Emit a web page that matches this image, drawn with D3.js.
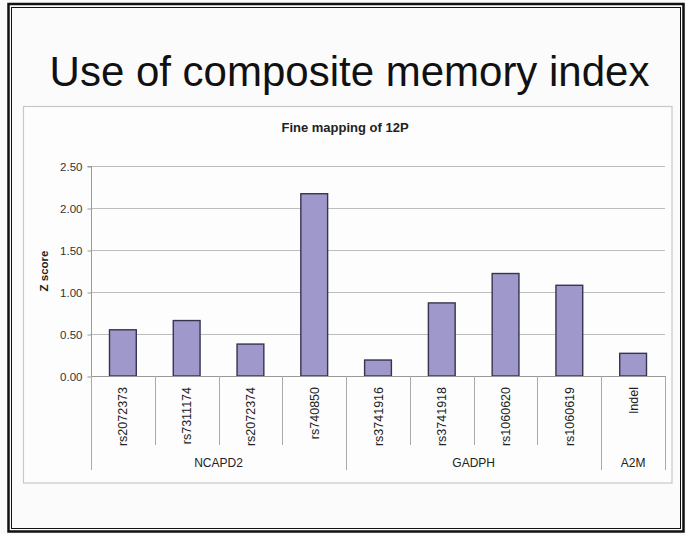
<!DOCTYPE html>
<html>
<head>
<meta charset="utf-8">
<script src="https://cdn.jsdelivr.net/npm/d3@7"></script>
<style>
  html, body { margin: 0; padding: 0; background: #fbfbfb; }
  svg { display: block; font-family: "Liberation Sans", Arial, sans-serif; }
</style>
</head>
<body>
<svg id="chart" width="686" height="535"></svg>
<script>
const categories = ["rs2072373","rs7311174","rs2072374","rs740850","rs3741916","rs3741918","rs1060620","rs1060619","Indel"];
const zScores = [0.55, 0.66, 0.38, 2.17, 0.19, 0.87, 1.22, 1.08, 0.27];
const genes = ["NCAPD2","NCAPD2","NCAPD2","NCAPD2","GADPH","GADPH","GADPH","GADPH","A2M"];
const yTicks = [0, 0.5, 1.0, 1.5, 2.0, 2.5];
const slideTitle = "Use of composite memory index";
const chartTitle = "Fine mapping of 12P";
const yLabel = "Z score";

(function () {
const svg = d3.select("#chart");

// outer slide frame
svg.append("rect").attr("x", 8.5).attr("y", 4).attr("width", 675).attr("height", 527.5)
  .attr("fill", "#fbfbfb").attr("stroke", "#111").attr("stroke-width", 2.5);
svg.append("rect").attr("x", 11.5).attr("y", 7.5).attr("width", 669).attr("height", 521)
  .attr("fill", "none").attr("stroke", "#111").attr("stroke-width", 1);

// slide title
svg.append("text").attr("x", 349.5).attr("y", 86)
  .attr("text-anchor", "middle").attr("font-size", 42).attr("fill", "#111")
  .text(slideTitle);

// chart box
svg.append("rect").attr("x", 23.5).attr("y", 106.5).attr("width", 648.5).attr("height", 376.5)
  .attr("fill", "#fdfdfd").attr("stroke", "#c8c8c8").attr("stroke-width", 1.2);

svg.append("text").attr("x", 345).attr("y", 132)
  .attr("text-anchor", "middle").attr("font-size", 13).attr("font-weight", "bold").attr("fill", "#222")
  .text(chartTitle);

const pLeft = 91, pRight = 665, pTop = 166, pBottom = 376;

const x = d3.scaleBand().domain(categories).range([pLeft, pRight])
  .paddingInner(0.58).paddingOuter(0.29);
const y = d3.scaleLinear().domain([0, 2.5]).range([pBottom, pTop]);

// gridlines
svg.append("g").selectAll("line").data(yTicks.filter(d => d > 0)).join("line")
  .attr("x1", pLeft).attr("x2", pRight)
  .attr("y1", d => Math.round(y(d)) + 0.5).attr("y2", d => Math.round(y(d)) + 0.5)
  .attr("stroke", "#bdbdbd").attr("stroke-width", 1);

// y axis
const yAxis = d3.axisLeft(y).tickValues(yTicks).tickFormat(d3.format(".2f")).tickSize(4).tickPadding(5);
const gy = svg.append("g").attr("transform", `translate(${pLeft + 0.5},0.5)`).call(yAxis);
gy.select(".domain").attr("stroke", "#999").attr("d", `M-4,${pTop}H0V${pBottom}`);
gy.selectAll(".tick line").attr("stroke", "#999");
gy.selectAll(".tick text").attr("font-size", 11.5).attr("fill", "#333")
  .attr("font-family", "Liberation Sans, Arial, sans-serif");

// y label
svg.append("text").attr("transform", `translate(48,${(pTop + pBottom) / 2}) rotate(-90)`)
  .attr("text-anchor", "middle").attr("font-size", 11.5).attr("font-weight", "bold").attr("fill", "#222")
  .text(yLabel);

// bars
const data = categories.map((c, i) => ({ cat: c, v: zScores[i], gene: genes[i] }));
svg.append("g").selectAll("rect").data(data).join("rect")
  .attr("x", d => x(d.cat)).attr("width", x.bandwidth())
  .attr("y", d => y(d.v)).attr("height", d => y(0) - y(d.v))
  .attr("fill", "#9f98cb").attr("stroke", "#36344f").attr("stroke-width", 1.4);

// x axis baseline
svg.append("line").attr("x1", pLeft).attr("x2", pRight).attr("y1", pBottom + 0.5).attr("y2", pBottom + 0.5)
  .attr("stroke", "#999");

// category boundaries
const step = x.step();
const boundaries = d3.range(categories.length + 1).map(i => pLeft + i * step);
const isGroupEdge = i => i === 0 || i === categories.length || genes[i] !== genes[i - 1];
svg.append("g").selectAll("line").data(boundaries).join("line")
  .attr("x1", d => Math.round(d) + 0.5).attr("x2", d => Math.round(d) + 0.5)
  .attr("y1", pBottom).attr("y2", (d, i) => isGroupEdge(i) ? 470 : 445)
  .attr("stroke", "#aaa").attr("stroke-width", 1);

// category labels
svg.append("g").selectAll("text").data(data).join("text")
  .attr("transform", d => `translate(${x(d.cat) + x.bandwidth() / 2 + 4.5},387) rotate(-90)`)
  .attr("text-anchor", "end").attr("font-size", 12.5).attr("fill", "#222")
  .text(d => d.cat);

// group labels
const groups = [];
genes.forEach((g, i) => {
  if (i === 0 || g !== genes[i - 1]) groups.push({ name: g, start: i, end: i });
  else groups[groups.length - 1].end = i;
});
svg.append("g").selectAll("text").data(groups).join("text")
  .attr("x", d => (boundaries[d.start] + boundaries[d.end + 1]) / 2)
  .attr("y", 467).attr("text-anchor", "middle").attr("font-size", 12).attr("fill", "#222")
  .text(d => d.name);
})();
</script>
</body>
</html>
